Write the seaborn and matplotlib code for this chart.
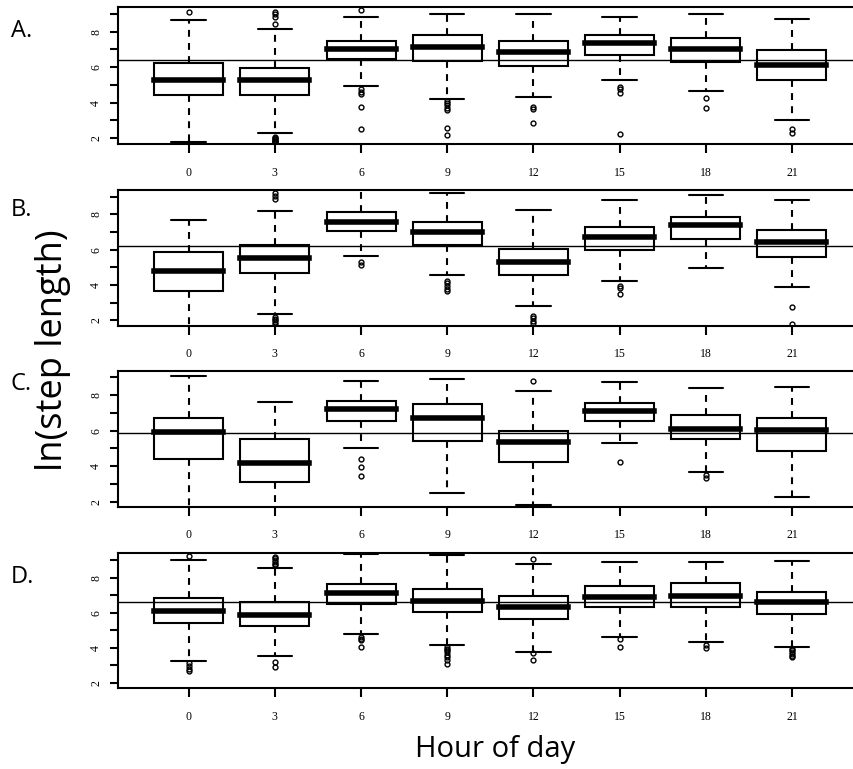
import numpy as np
import pandas as pd
import matplotlib
matplotlib.use("Agg")
import matplotlib.pyplot as plt
import seaborn as sns

sns.set_style("ticks")
plt.rcParams["font.family"] = ["Liberation Serif", "DejaVu Serif"]
plt.rcParams["axes.edgecolor"] = "black"
plt.rcParams["xtick.color"] = "black"
plt.rcParams["ytick.color"] = "black"
plt.rcParams["text.color"] = "black"
plt.rcParams["axes.labelcolor"] = "black"

# ---------------- data ----------------
hours = [0, 3, 6, 9, 12, 15, 18, 21]
panel_labels = ["A.", "B.", "C.", "D."]
overall_mean = [6.38, 6.21, 5.84, 6.59]

A_lower = [1.78, 2.29, 4.95, 4.22, 4.32, 5.27, 4.65, 3.00]
A_q1 = [4.41, 4.41, 6.44, 6.35, 6.08, 6.67, 6.29, 5.26]
A_median = [5.29, 5.26, 7.00, 7.14, 6.87, 7.38, 7.00, 6.10]
A_q3 = [6.23, 5.95, 7.47, 7.79, 7.47, 7.79, 7.62, 6.95]
A_upper = [8.68, 8.13, 8.83, 8.98, 8.98, 8.83, 8.98, 8.70]
A_outliers = [
    [9.13],
    [9.13, 9.0, 8.85, 8.41, 2.05, 2.0, 1.95, 1.9, 1.85, 1.8, 1.75],
    [9.22, 4.75, 4.6, 4.47, 3.77, 2.49],
    [4.1, 3.99, 3.85, 3.7, 3.6, 2.55, 2.15],
    [3.75, 3.62, 2.87],
    [4.9, 4.75, 4.56, 2.21],
    [4.25, 3.71],
    [2.49, 2.3],
]

B_lower = [1.60, 2.34, 5.62, 4.57, 2.81, 4.21, 4.98, 3.91]
B_q1 = [3.66, 4.66, 7.08, 6.26, 4.55, 5.96, 6.62, 5.57]
B_median = [4.81, 5.51, 7.55, 7.02, 5.30, 6.74, 7.40, 6.43]
B_q3 = [5.85, 6.25, 8.11, 7.58, 6.06, 7.28, 7.87, 7.13]
B_upper = [7.66, 8.19, 9.45, 9.19, 8.25, 8.81, 9.09, 8.81]
B_outliers = [
    [],
    [9.19, 9.04, 8.89, 2.2, 2.1, 2.0, 1.9, 1.8],
    [5.28, 5.13],
    [4.25, 4.1, 3.95, 3.8, 3.65],
    [2.25, 2.11, 1.98, 1.83],
    [3.94, 3.81, 3.49],
    [],
    [2.75, 1.77],
]

C_lower = [1.60, 1.60, 5.00, 2.47, 1.83, 5.32, 3.68, 2.24]
C_q1 = [4.40, 3.12, 6.56, 5.41, 4.21, 6.54, 5.54, 4.85]
C_median = [5.94, 4.19, 7.23, 6.69, 5.35, 7.08, 6.11, 6.05]
C_q3 = [6.72, 5.52, 7.68, 7.47, 5.97, 7.57, 6.86, 6.72]
C_upper = [9.07, 7.62, 8.81, 8.90, 8.24, 8.71, 8.38, 8.47]
C_outliers = [
    [],
    [],
    [4.38, 3.93, 3.44],
    [],
    [8.77],
    [4.21],
    [3.53, 3.31],
    [],
]

D_lower = [3.23, 3.54, 4.78, 4.13, 3.77, 4.63, 4.34, 4.02]
D_q1 = [5.39, 5.24, 6.48, 6.06, 5.66, 6.34, 6.30, 5.92]
D_median = [6.10, 5.87, 7.10, 6.69, 6.34, 6.91, 6.97, 6.59]
D_q3 = [6.84, 6.59, 7.64, 7.36, 6.95, 7.52, 7.68, 7.20]
D_upper = [9.00, 8.53, 9.33, 9.30, 8.78, 8.88, 8.91, 8.93]
D_outliers = [
    [9.24, 3.1, 2.95, 2.8, 2.69],
    [9.2, 9.1, 9.0, 8.9, 8.8, 8.72, 3.2, 2.91],
    [4.63, 4.5, 4.44, 4.06],
    [4.05, 3.95, 3.85, 3.75, 3.6, 3.45, 3.3, 3.07],
    [9.07, 3.68, 3.30],
    [4.48, 4.06],
    [4.15, 3.96],
    [3.95, 3.85, 3.75, 3.65, 3.55, 3.45],
]

panels = [
    (A_lower, A_q1, A_median, A_q3, A_upper, A_outliers),
    (B_lower, B_q1, B_median, B_q3, B_upper, B_outliers),
    (C_lower, C_q1, C_median, C_q3, C_upper, C_outliers),
    (D_lower, D_q1, D_median, D_q3, D_upper, D_outliers),
]


def box_sample(lo, q1, med, q3, hi, outs, m=20):
    """Sample of 4m+1 values whose quartiles / whisker ends equal the given stats."""
    lows = sorted(o for o in outs if o < q1)
    highs = sorted(o for o in outs if o > q3)
    vals = (lows + [lo] + [q1] * (m - len(lows)) + [med] * m + [q3] * m
            + [q3] * (m - len(highs) - 1) + [hi] + highs)
    return vals


rows = []
for p, (lo, q1, md, q3, hi, outs) in enumerate(panels):
    for i, h in enumerate(hours):
        for v in box_sample(lo[i], q1[i], md[i], q3[i], hi[i], outs[i]):
            rows.append({"panel": panel_labels[p], "hour": h, "value": v})
df = pd.DataFrame(rows)

# ---------------- layout ----------------
W, H = 854, 769
fig = plt.figure(figsize=(W / 100, H / 100), dpi=100)

ax_px = [(7.3, 144.0), (190.0, 325.7), (371.0, 506.7), (553.3, 688.3)]
ylims = [(1.66, 9.38), (1.70, 9.38), (1.72, 9.35), (1.68, 9.39)]
label_y = [31, 210, 384, 577]
left_px = 118

for p in range(4):
    top, bot = ax_px[p]
    ax = fig.add_axes([left_px / W, 1 - bot / H, 1 - left_px / W, (bot - top) / H])
    sub = df[df["panel"] == panel_labels[p]]
    sns.boxplot(
        data=sub, x="hour", y="value", order=hours, ax=ax,
        width=0.8, whis=1.5, color="white", linecolor="black", saturation=1,
        linewidth=1.5, fliersize=3.5,
        whiskerprops=dict(linestyle=(0, (3.3, 3))),
        medianprops=dict(linewidth=4.0, solid_capstyle="projecting"),
        flierprops=dict(marker="o", markerfacecolor="none", markeredgewidth=1.0),
    )
    ax.axhline(overall_mean[p], color="black", lw=1.0, zorder=10)
    ax.set_xlim(-0.82, 7.72)
    ax.set_ylim(*ylims[p])
    ax.set_xlabel("")
    ax.set_ylabel("")
    ax.set_yticks(range(2, 10))
    ax.set_yticklabels(["2", "", "4", "", "6", "", "8", ""], rotation=90, va="center")
    ax.set_xticks(range(len(hours)))
    ax.set_xticklabels([str(h) for h in hours])
    ax.tick_params(axis="x", length=6.3, width=1.5, pad=10, labelsize=8.5)
    ax.tick_params(axis="y", length=5.8, width=1.5, pad=5.5, labelsize=8.5)
    for side in ["top", "left", "bottom"]:
        ax.spines[side].set_linewidth(1.5)
        ax.spines[side].set_color("black")
    ax.spines["right"].set_visible(False)

    fig.text(11 / W, 1 - label_y[p] / H, panel_labels[p], ha="left", va="center",
             fontsize=17, family=["Open Sans", "DejaVu Sans"], color="black")

fig.text(53.5 / W, 1 - 350 / H, "ln(step length)", rotation=90, ha="center",
         va="center", fontsize=26, family=["Open Sans", "DejaVu Sans"], color="black")
fig.text(495 / W, 1 - 750 / H, "Hour of day", ha="center", va="center",
         fontsize=21, family=["Open Sans", "DejaVu Sans"], color="black")

fig.savefig("out.png", dpi=100)
